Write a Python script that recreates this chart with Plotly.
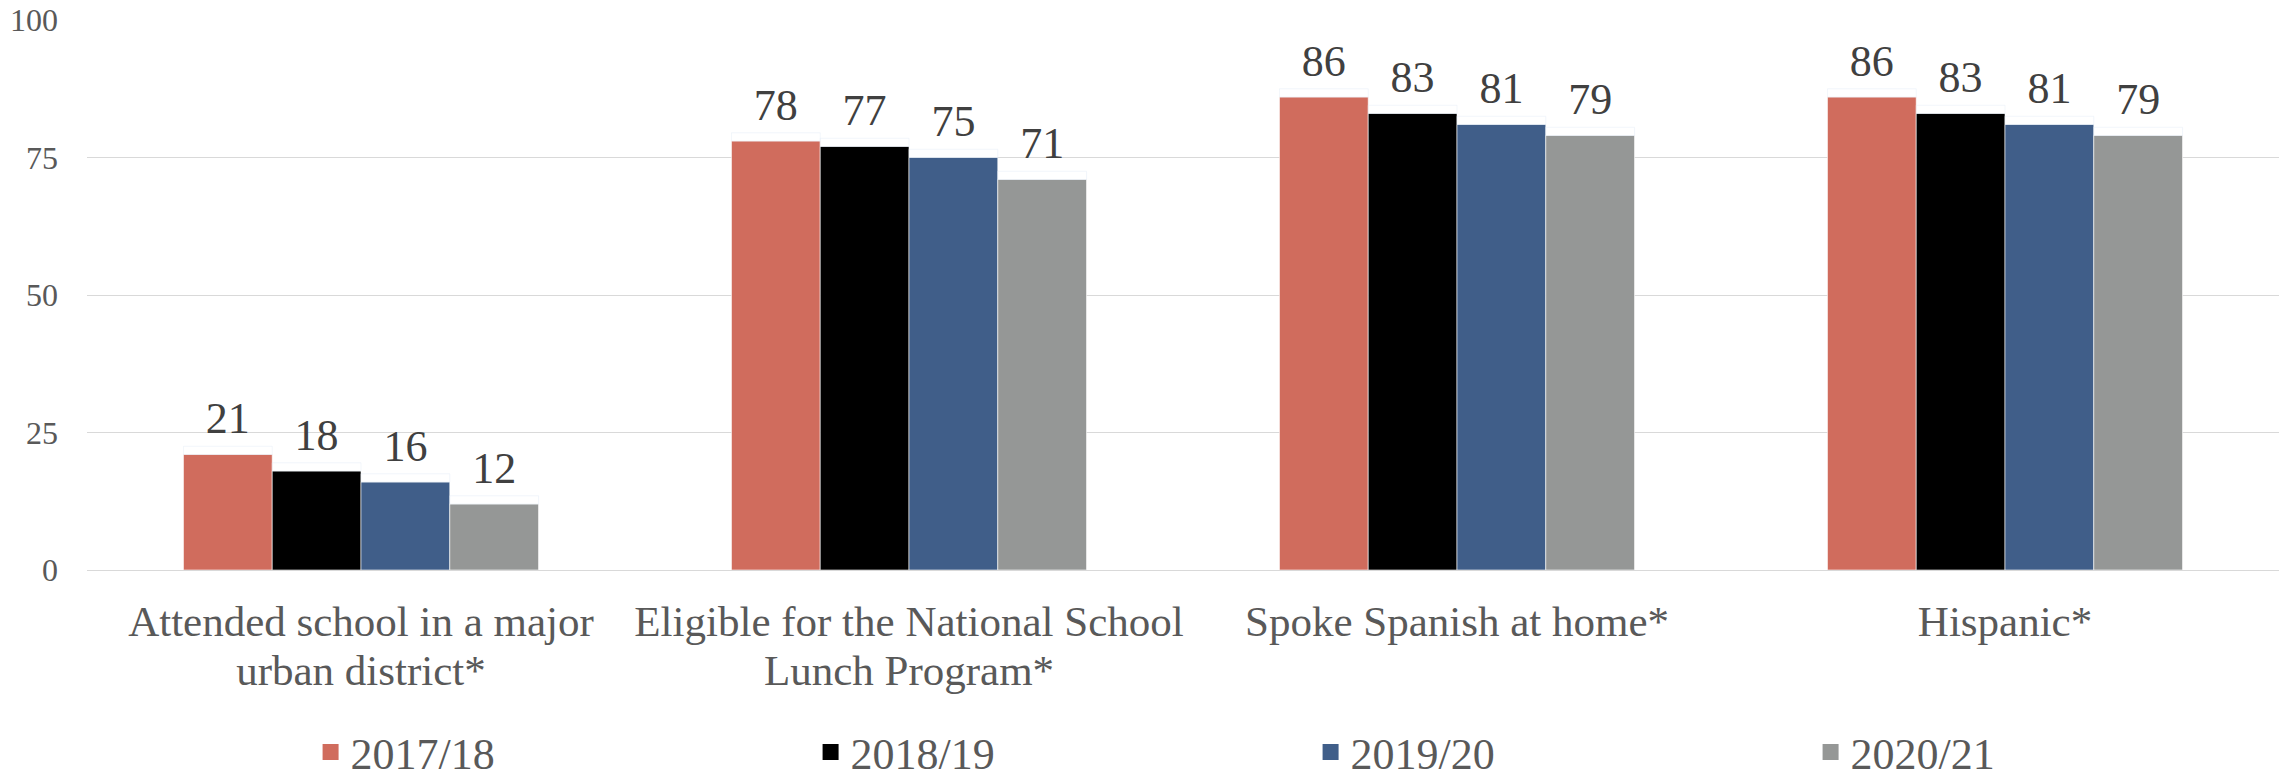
import plotly.graph_objects as go

categories = [
    "Attended school in a major<br>urban district*",
    "Eligible for the National School<br>Lunch Program*",
    "Spoke Spanish at home*",
    "Hispanic*",
]
series_names = ["2017/18", "2018/19", "2019/20", "2020/21"]
v_2017 = [21, 78, 86, 86]
v_2018 = [18, 77, 83, 83]
v_2019 = [16, 75, 81, 81]
v_2020 = [12, 71, 79, 79]
y_ticks = [0, 25, 50, 75, 100]

colors = ["#D06C5D", "#000000", "#405E89", "#959796"]
series_values = [v_2017, v_2018, v_2019, v_2020]

FONT = "Liberation Serif"
LABEL_PAD = 1.5
LINE_FONT = 43

def big(label):
    return "<br>".join(
        f'<span style="font-size:{LINE_FONT}px">{part}</span>' for part in label.split("<br>")
    )

tick_text = [big(c) for c in categories]

fig = go.Figure()
for i, (name, vals, col) in enumerate(zip(series_names, series_values, colors)):
    fig.add_trace(go.Bar(
        x=categories, y=vals, name=name, offsetgroup=str(i),
        marker=dict(color=col, line=dict(color="rgba(255,255,255,0.6)", width=1)),
        showlegend=False, hoverinfo="skip",
    ))
    # transparent carrier for the value labels, same slot as the bar
    fig.add_trace(go.Bar(
        x=categories, y=[LABEL_PAD] * len(vals), base=vals, offsetgroup=str(i),
        marker=dict(color="rgba(0,0,0,0)"), text=[str(v) for v in vals],
        textposition="outside", constraintext="none", cliponaxis=False,
        textfont=dict(family=FONT, size=44, color="#404040"),
        showlegend=False, hoverinfo="skip",
    ))
    fig.add_trace(go.Scatter(
        x=[None], y=[None], mode="markers", name=name,
        marker=dict(symbol="square", size=22, color=col),
        showlegend=True,
    ))

fig.update_layout(
    width=2287, height=772,
    margin=dict(l=87, r=8, t=20, b=202, autoexpand=False),
    paper_bgcolor="white", plot_bgcolor="white",
    barmode="group", bargap=0.352, bargroupgap=0,
    font=dict(family=FONT, color="#595959"),
    showlegend=True,
    legend=dict(
        orientation="h", x=0.102, xanchor="left", y=-0.2672, yanchor="top",
        font=dict(family=FONT, size=44, color="#595959"),
        entrywidth=455, entrywidthmode="pixels",
        bgcolor="rgba(0,0,0,0)", tracegroupgap=0,
    ),
    xaxis=dict(
        tickmode="array", tickvals=categories, ticktext=tick_text,
        tickfont=dict(family=FONT, size=37.7, color="#595959"),
        showgrid=False, showline=False, ticks="", ticklabelstandoff=27,
    ),
    yaxis=dict(
        range=[0, 100], tickmode="array", tickvals=y_ticks,
        tickfont=dict(family=FONT, size=32, color="#595959"),
        showgrid=True, gridcolor="#D9D9D9", gridwidth=1,
        zeroline=True, zerolinecolor="#D9D9D9", zerolinewidth=1,
        showline=False, ticks="", ticklabelstandoff=28,
    ),
)

fig.write_html("out.html")
